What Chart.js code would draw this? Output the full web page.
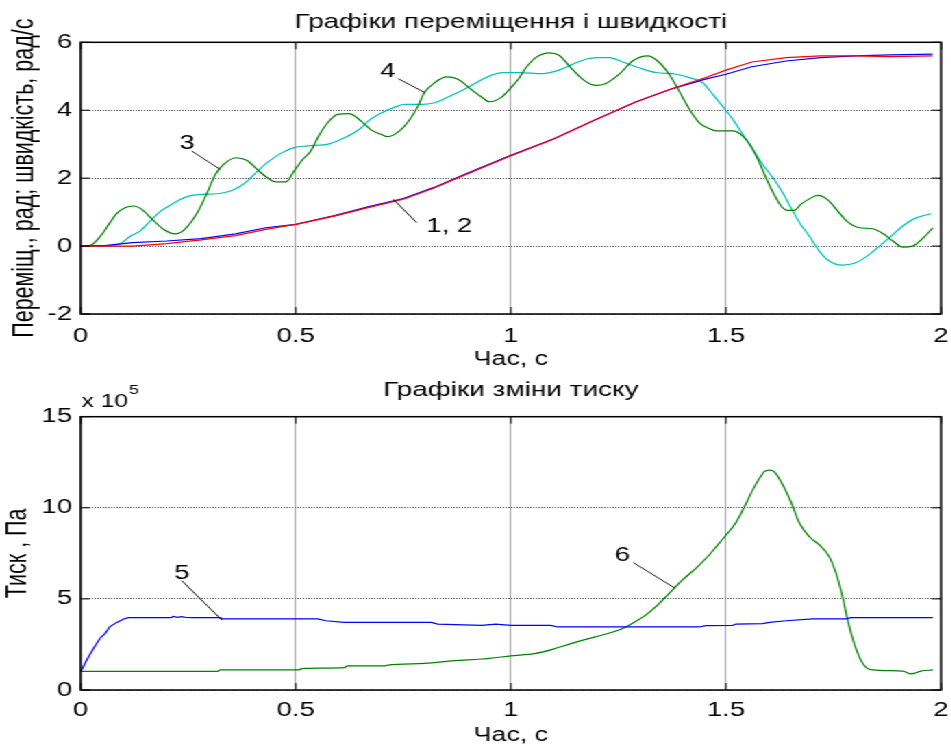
<!DOCTYPE html>
<html>
<head>
<meta charset="utf-8">
<script src="https://cdn.jsdelivr.net/npm/chart.js@4.4.1/dist/chart.umd.min.js"></script>
<style>
  html, body { margin: 0; padding: 0; background: #fff; overflow: hidden; }
  /* the figure is laid out narrow and widened horizontally */
  #sheet { position: absolute; left: 0; top: 0; width: 694px; height: 749px;
           transform: scaleX(1.37); transform-origin: 0 0; }
  canvas { display: block; }
</style>
</head>
<body>
<div id="sheet">
  <canvas id="motion" width="694" height="370"></canvas>
  <canvas id="pressure" width="694" height="379"></canvas>
</div>
<script>
// ---- displacement (rad), curves 1 and 2 ----
const timeDisp = [0, 0.06, 0.12, 0.2, 0.28, 0.36, 0.43, 0.5, 0.59, 0.67, 0.75, 0.82, 0.9, 1.0, 1.1, 1.19, 1.29, 1.37, 1.45, 1.5, 1.56, 1.64, 1.72, 1.8, 1.88, 1.98];
const disp1 = [0, 0.02, 0.10, 0.15, 0.22, 0.36, 0.54, 0.64, 0.90, 1.16, 1.40, 1.72, 2.15, 2.67, 3.16, 3.68, 4.24, 4.61, 4.91, 5.06, 5.28, 5.45, 5.55, 5.60, 5.63, 5.65];
const disp2 = [0, 0, 0, 0.07, 0.18, 0.31, 0.49, 0.64, 0.88, 1.14, 1.38, 1.70, 2.13, 2.66, 3.15, 3.68, 4.24, 4.62, 4.95, 5.18, 5.42, 5.55, 5.60, 5.60, 5.58, 5.60];

// ---- velocity (rad/s), curve 3 ----
const timeVel3 = [0, 0.022, 0.049, 0.068, 0.084, 0.103, 0.123, 0.142, 0.166, 0.193, 0.220, 0.243, 0.271, 0.294, 0.313, 0.333, 0.360, 0.387, 0.410, 0.434, 0.453, 0.477, 0.496, 0.516, 0.535, 0.551, 0.574, 0.597, 0.624, 0.652, 0.675, 0.698, 0.714, 0.741, 0.768, 0.784, 0.799, 0.823, 0.850, 0.877, 0.908, 0.932, 0.950, 0.977, 1.0, 1.019, 1.035, 1.058, 1.089, 1.112, 1.136, 1.167, 1.198, 1.221, 1.252, 1.283, 1.318, 1.341, 1.368, 1.391, 1.415, 1.438, 1.461, 1.477, 1.516, 1.539, 1.558, 1.578, 1.593, 1.609, 1.628, 1.643, 1.659, 1.674, 1.694, 1.713, 1.736, 1.760, 1.783, 1.810, 1.841, 1.868, 1.888, 1.911, 1.934, 1.957, 1.981];
const vel3 = [0, 0.02, 0.34, 0.69, 0.96, 1.13, 1.18, 1.08, 0.79, 0.49, 0.36, 0.51, 0.98, 1.57, 2.11, 2.41, 2.60, 2.52, 2.26, 2.01, 1.89, 1.89, 2.21, 2.55, 2.80, 3.19, 3.63, 3.88, 3.90, 3.68, 3.42, 3.29, 3.22, 3.39, 3.78, 4.12, 4.52, 4.81, 4.98, 4.91, 4.61, 4.39, 4.25, 4.37, 4.66, 4.94, 5.25, 5.55, 5.69, 5.62, 5.30, 4.91, 4.73, 4.79, 5.06, 5.45, 5.60, 5.45, 5.06, 4.57, 4.03, 3.63, 3.46, 3.39, 3.39, 3.24, 2.95, 2.45, 2.01, 1.59, 1.18, 1.05, 1.05, 1.23, 1.39, 1.49, 1.37, 1.03, 0.71, 0.54, 0.51, 0.34, 0.15, -0.03, 0, 0.22, 0.54];

// ---- velocity (rad/s), curve 4 ----
const timeVel4 = [0, 0.061, 0.092, 0.115, 0.138, 0.162, 0.181, 0.205, 0.228, 0.251, 0.278, 0.317, 0.348, 0.372, 0.391, 0.411, 0.438, 0.465, 0.496, 0.527, 0.578, 0.613, 0.648, 0.671, 0.698, 0.726, 0.753, 0.792, 0.823, 0.854, 0.885, 0.910, 0.934, 0.957, 0.981, 1.019, 1.074, 1.112, 1.143, 1.174, 1.198, 1.229, 1.260, 1.298, 1.337, 1.384, 1.415, 1.446, 1.469, 1.492, 1.516, 1.539, 1.562, 1.585, 1.609, 1.632, 1.651, 1.671, 1.694, 1.717, 1.740, 1.771, 1.802, 1.829, 1.857, 1.884, 1.911, 1.942, 1.977];
const vel4 = [0, 0, 0.07, 0.29, 0.44, 0.74, 0.98, 1.18, 1.35, 1.47, 1.52, 1.54, 1.62, 1.77, 1.96, 2.21, 2.50, 2.73, 2.90, 2.95, 3.01, 3.19, 3.44, 3.71, 3.91, 4.07, 4.17, 4.17, 4.22, 4.39, 4.57, 4.74, 4.91, 5.04, 5.11, 5.11, 5.08, 5.18, 5.35, 5.50, 5.55, 5.55, 5.42, 5.25, 5.11, 5.06, 4.96, 4.81, 4.47, 4.12, 3.73, 3.29, 2.85, 2.41, 2.01, 1.57, 1.13, 0.69, 0.29, -0.15, -0.44, -0.56, -0.49, -0.29, 0, 0.29, 0.59, 0.83, 0.95];

// ---- pressure (Pa), curve 5 ----
const timeP5 = [0, 0.014, 0.030, 0.045, 0.057, 0.068, 0.084, 0.100, 0.111, 0.21, 0.215, 0.225, 0.235, 0.245, 0.26, 0.325, 0.329, 0.551, 0.570, 0.613, 0.815, 0.830, 0.932, 0.965, 1.0, 1.093, 1.109, 1.438, 1.453, 1.516, 1.523, 1.585, 1.601, 1.640, 1.702, 1.779, 1.791, 1.981];
const press5 = [100000, 165000, 229000, 284000, 311000, 348000, 371000, 390000, 397000, 397000, 404000, 399000, 403000, 398000, 397000, 397000, 390000, 390000, 380000, 371000, 371000, 362000, 355000, 362000, 355000, 355000, 346000, 346000, 353000, 355000, 362000, 364000, 371000, 380000, 390000, 390000, 397000, 397000];

// ---- pressure (Pa), curve 6 ----
const timeP6 = [0, 0.317, 0.325, 0.504, 0.519, 0.613, 0.620, 0.706, 0.714, 0.800, 0.869, 0.932, 0.950, 1.0, 1.058, 1.097, 1.136, 1.174, 1.213, 1.256, 1.283, 1.314, 1.341, 1.368, 1.399, 1.430, 1.461, 1.484, 1.504, 1.523, 1.543, 1.562, 1.578, 1.589, 1.601, 1.612, 1.628, 1.651, 1.671, 1.694, 1.717, 1.740, 1.756, 1.771, 1.783, 1.798, 1.818, 1.841, 1.911, 1.930, 1.953, 1.981];
const press6 = [102000, 102000, 110000, 110000, 119000, 123000, 132000, 132000, 137000, 146000, 161000, 170000, 174000, 187000, 201000, 223000, 252000, 278000, 302000, 333000, 366000, 412000, 466000, 530000, 604000, 668000, 741000, 805000, 860000, 918000, 1006000, 1097000, 1162000, 1198000, 1207000, 1198000, 1143000, 1033000, 915000, 841000, 796000, 732000, 640000, 512000, 384000, 256000, 146000, 110000, 104000, 88000, 104000, 110000];

// ---- axis ticks ----
const timeTicks = [0, 0.5, 1, 1.5, 2];
const motionTicks = [-2, 0, 2, 4, 6];
const pressureTicks = [0, 500000, 1000000, 1500000];

const FONT = "'Liberation Sans', Arial, Helvetica, sans-serif";
const tickFont = { family: FONT, size: 20, lineHeight: 1 };

const pts = (t, v) => t.map((x, i) => ({ x, y: v[i] }));

// box, inward tick marks, title and numbered callouts
const frame = {
  id: 'frame',
  afterDraw(chart, args, opts) {
    const { ctx, chartArea: a, scales: { x, y } } = chart;
    ctx.save();
    ctx.strokeStyle = '#000';
    ctx.lineWidth = 1;
    ctx.beginPath();
    x.ticks.forEach(t => {
      const px = x.getPixelForValue(t.value);
      ctx.moveTo(px, a.bottom); ctx.lineTo(px, a.bottom - 7);
      ctx.moveTo(px, a.top); ctx.lineTo(px, a.top + 7);
    });
    y.ticks.forEach(t => {
      const py = y.getPixelForValue(t.value);
      ctx.moveTo(a.left, py); ctx.lineTo(a.left + 6.8, py);
      ctx.moveTo(a.right, py); ctx.lineTo(a.right - 6.8, py);
    });
    ctx.stroke();
    ctx.lineWidth = 1.5;
    ctx.strokeRect(a.left, a.top, a.right - a.left, a.bottom - a.top);

    ctx.fillStyle = '#000';
    ctx.textAlign = 'center';
    ctx.textBaseline = 'alphabetic';
    ctx.font = `20.4px ${FONT}`;
    ctx.fillText(opts.title, (a.left + a.right) / 2, opts.titleBaseline);

    ctx.lineWidth = 0.9;
    ctx.font = `20px ${FONT}`;
    opts.callouts.forEach(c => {
      ctx.beginPath();
      ctx.moveTo(x.getPixelForValue(c.from[0]), y.getPixelForValue(c.from[1]));
      ctx.lineTo(x.getPixelForValue(c.to[0]), y.getPixelForValue(c.to[1]));
      ctx.stroke();
      ctx.fillText(c.text, x.getPixelForValue(c.at[0]), y.getPixelForValue(c.at[1]) + 7.2);
    });

    if (opts.exponent) {
      ctx.textAlign = 'left';
      ctx.font = `18px ${FONT}`;
      const base = 'x 10';
      ctx.fillText(base, a.left + 0.7, 36.7);
      const w = ctx.measureText(base).width;
      ctx.font = `13px ${FONT}`;
      ctx.fillText(opts.exponent, a.left + 0.7 + w + 0.6, 23.5);
    }
    ctx.restore();
  }
};

function line(data, color, smooth) {
  return {
    data, borderColor: color, borderWidth: 1.2, pointRadius: 0, fill: false,
    tension: 0, cubicInterpolationMode: smooth ? 'monotone' : 'default'
  };
}

function axis(ticks, size, pad, titleText, titleFont, titlePad, horizontal, fmt) {
  return {
    type: 'linear',
    min: ticks[0], max: ticks[ticks.length - 1],
    afterBuildTicks: s => { s.ticks = ticks.map(value => ({ value })); },
    afterFit: s => {
      if (horizontal) s.height = size; else s.width = size;
      // the plot box is fixed by the layout padding alone
      s.paddingLeft = s.paddingRight = s.paddingTop = s.paddingBottom = 0;
    },
    ticks: { font: tickFont, color: '#000', padding: pad, maxRotation: 0, autoSkip: false,
             callback: fmt || (v => String(v)) },
    // vertical grid lines: thin solid grey; horizontal ones: dark dotted
    grid: horizontal
      ? { color: '#8a8a8a', lineWidth: 0.8, drawTicks: false }
      : { color: '#555', lineWidth: 1, drawTicks: false },
    border: { display: false, dash: horizontal ? [] : [1, 1] },
    title: { display: true, text: titleText, color: '#000',
             font: { family: FONT, size: titleFont, lineHeight: 1 }, padding: titlePad }
  };
}

const common = {
  responsive: false, animation: false, events: [],
  plugins: { legend: { display: false }, tooltip: { enabled: false } }
};

new Chart(document.getElementById('motion'), {
  type: 'line',
  data: {
    datasets: [
      line(pts(timeDisp, disp2), '#ff0000', false),
      line(pts(timeDisp, disp1), '#0000ff', false),
      line(pts(timeVel3, vel3), '#008000', true),
      line(pts(timeVel4, vel4), '#00bfbf', true)
    ]
  },
  options: {
    ...common,
    layout: { padding: { top: 42.3, right: 7.1, bottom: 0, left: 0 } },
    scales: {
      x: axis(timeTicks, 56, 12, 'Час, с', 19.5, { top: 0, bottom: 0.6 }, true),
      y: axis(motionTicks, 58.9, 6.3, 'Переміщ., рад; швидкість, рад/с', 21.5, { top: 6.9, bottom: 0 }, false)
    },
    plugins: {
      ...common.plugins,
      frame: {
        title: 'Графіки переміщення і швидкості', titleBaseline: 27.5,
        callouts: [
          { text: '1, 2', at: [0.857, 0.63], from: [0.781, 0.69], to: [0.727, 1.375] },
          { text: '3', at: [0.247, 3.07], from: [0.258, 2.80], to: [0.324, 2.26] },
          { text: '4', at: [0.714, 5.20], from: [0.738, 4.93], to: [0.800, 4.52] }
        ]
      }
    }
  },
  plugins: [frame]
});

new Chart(document.getElementById('pressure'), {
  type: 'line',
  data: {
    datasets: [
      line(pts(timeP5, press5), '#0000ff', false),
      line(pts(timeP6, press6), '#008000', true)
    ]
  },
  options: {
    ...common,
    layout: { padding: { top: 46.7, right: 7.1, bottom: 0, left: 0 } },
    scales: {
      x: axis(timeTicks, 59, 10.2, 'Час, с', 19.5, { top: 0, bottom: 3.85 }, true),
      y: axis(pressureTicks, 58.9, 6.3, 'Тиск , Па', 21.5, { top: 2.1, bottom: 0 }, false,
              v => String(Math.round(v / 1e5)))
    },
    plugins: {
      ...common.plugins,
      frame: {
        title: 'Графіки зміни тиску', titleBaseline: 25.5, exponent: '5',
        callouts: [
          { text: '5', at: [0.235, 649000], from: [0.235, 600000], to: [0.328, 384000] },
          { text: '6', at: [1.259, 745000], from: [1.285, 699000], to: [1.382, 558000] }
        ]
      }
    }
  },
  plugins: [frame]
});
</script>
</body>
</html>
